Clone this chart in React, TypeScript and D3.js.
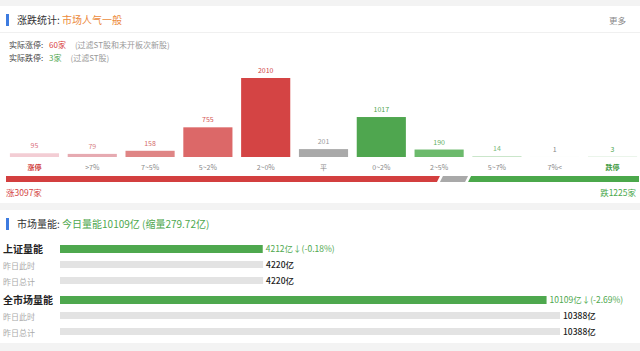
import * as d3 from "d3";

const categories = ["涨停", ">7%", "7~5%", "5~2%", "2~0%", "平", "0~2%", "2~5%", "5~7%", "7%<", "跌停"];
const counts = [95, 79, 158, 755, 2010, 201, 1017, 190, 14, 1, 3];
const barColors = ["#f3cdd4", "#e6aab1", "#df8585", "#dc6868", "#d44444", "#a9a9a9", "#4fa64f", "#6cba6c", "#9fd29f", "#b8deb8", "#4fa64f"];
const valueColors = ["#d9707a", "#d77f86", "#d46a6a", "#d45555", "#d04545", "#9a9a9a", "#4fa64f", "#5fb05f", "#7aba7a", "#888888", "#4fa64f"];

const breadthLabels = ["涨", "平", "跌"];
const breadthCounts = [3097, 201, 1225];
const breadthColors = ["#d33f3f", "#a9a9a9", "#4ba84b"];

const volumeRows = ["上证量能", "昨日此时", "昨日总计", "全市场量能", "昨日此时", "昨日总计"];
const volumeValues = [4212, 4220, 4220, 10109, 10388, 10388];
const volumeTexts = ["4212亿↓(-0.18%)", "4220亿", "4220亿", "10109亿↓(-2.69%)", "10388亿", "10388亿"];

const FONT = "'Noto Sans CJK SC', 'Noto Sans', sans-serif";

export default function App() {
  const W = 640;
  const H = 351;

  // histogram
  const x = d3.scaleBand<string>().domain(categories).range([7, 640]).paddingInner(0.15).paddingOuter(0.05);
  const baseY = 157;
  const y = d3.scaleLinear().domain([0, 2010]).range([0, 79]);

  // breadth bar
  const total = d3.sum(breadthCounts);
  const bx = d3.scaleLinear().domain([0, total]).range([6, 639]);
  const cum = breadthCounts.map((_, i) => d3.sum(breadthCounts.slice(0, i)));
  const bTop = 176;
  const bH = 6;
  const skew = 3;

  // volume bars
  const vx = d3.scaleLinear().domain([0, 10388]).range([60, 560]);
  const rowY = [249, 265, 281, 300, 316, 332];

  return (
    <svg
      width={W}
      height={H}
      style={{ position: "fixed", left: 0, top: 0, background: "#f3f3f3", fontFamily: FONT }}
    >
      {/* panels */}
      <rect x={0} y={6} width={W} height={197} fill="#fff" />
      <rect x={0} y={210} width={W} height={133} fill="#fff" />

      {/* header 1 */}
      <rect x={6} y={14} width={3} height={12} fill="#3d7be0" />
      <text x={17} y={23.5} fontSize={10} fill="#333">
        涨跌统计: <tspan fill="#ec8a3c">市场人气一般</tspan>
      </text>
      <text x={626} y={23.5} fontSize={8.5} fill="#888" textAnchor="end">更多</text>
      <line x1={0} x2={W} y1={32.5} y2={32.5} stroke="#f0f0f0" />

      <text x={9} y={48} fontSize={8} fill="#444">
        实际涨停: <tspan fill="#d94040" dx={4}>60家</tspan>
        <tspan fill="#999" dx={9}>(过滤ST股和未开板次新股)</tspan>
      </text>
      <text x={9} y={61} fontSize={8} fill="#444">
        实际跌停: <tspan fill="#4fa64f" dx={4}>3家</tspan>
        <tspan fill="#999" dx={9}>(过滤ST股)</tspan>
      </text>

      {/* histogram */}
      {categories.map((c, i) => {
        const h = y(counts[i]);
        const bx0 = x(c) ?? 0;
        const cx = bx0 + x.bandwidth() / 2;
        const isLimit = i === 0 || i === categories.length - 1;
        return (
          <g key={c}>
            <rect x={bx0} y={baseY - h} width={x.bandwidth()} height={h} fill={barColors[i]} />
            <text x={cx} y={baseY - h - 5} fontSize={7} fill={valueColors[i]} textAnchor="middle">
              {counts[i]}
            </text>
            <text
              x={cx}
              y={169.5}
              fontSize={7}
              textAnchor="middle"
              fill={i === 0 ? "#d04040" : i === categories.length - 1 ? "#3f9a3f" : "#888"}
              fontWeight={isLimit ? "bold" : "normal"}
            >
              {c}
            </text>
          </g>
        );
      })}

      {/* breadth bar */}
      {breadthCounts.map((v, i) => {
        const x0 = bx(cum[i]) + (i === 0 ? 0 : 1);
        const x1 = bx(cum[i] + v) - (i === breadthCounts.length - 1 ? 0 : 1);
        const l0 = i === 0 ? 0 : skew;
        const r0 = i === breadthCounts.length - 1 ? 0 : skew;
        const pts = [
          [x0 + l0, bTop],
          [x1 + r0 / 2, bTop],
          [x1 - r0 / 2, bTop + bH],
          [x0, bTop + bH],
        ];
        if (i !== 0) pts[3] = [x0 - l0 / 2 + 1, bTop + bH];
        if (i !== 0) pts[0] = [x0 + l0 / 2 + 1, bTop];
        return <polygon key={breadthLabels[i]} points={pts.map((p) => p.join(",")).join(" ")} fill={breadthColors[i]} />;
      })}
      <text x={6} y={196} fontSize={8.5} fill="#d33f3f">涨3097家</text>
      <text x={636} y={196} fontSize={8.5} fill="#4ba84b" textAnchor="end">跌1225家</text>

      {/* header 2 */}
      <rect x={6} y={218} width={3} height={12} fill="#3d7be0" />
      <text x={17} y={227.5} fontSize={10} fill="#333">
        市场量能: <tspan fill="#4ea84e">今日量能10109亿 (缩量279.72亿)</tspan>
      </text>

      {/* volume rows */}
      {volumeRows.map((r, i) => {
        const main = i === 0 || i === 3;
        const yy = rowY[i];
        return (
          <g key={i}>
            <text
              x={3}
              y={yy + 4}
              fontSize={main ? 10 : 8}
              fontWeight={main ? "bold" : "normal"}
              fill={main ? "#222" : "#aaa"}
            >
              {r}
            </text>
            <rect
              x={vx(0)}
              y={yy - 4}
              width={vx(volumeValues[i]) - vx(0)}
              height={main ? 8 : 7}
              fill={main ? "#4ea84e" : "#e3e3e3"}
            />
            <text
              x={vx(volumeValues[i]) + 3}
              y={yy + 3}
              fontSize={8.5}
              fill={main ? "#4ea84e" : "#222"}
              fontWeight={main ? "normal" : 500}
            >
              {volumeTexts[i]}
            </text>
          </g>
        );
      })}
    </svg>
  );
}
